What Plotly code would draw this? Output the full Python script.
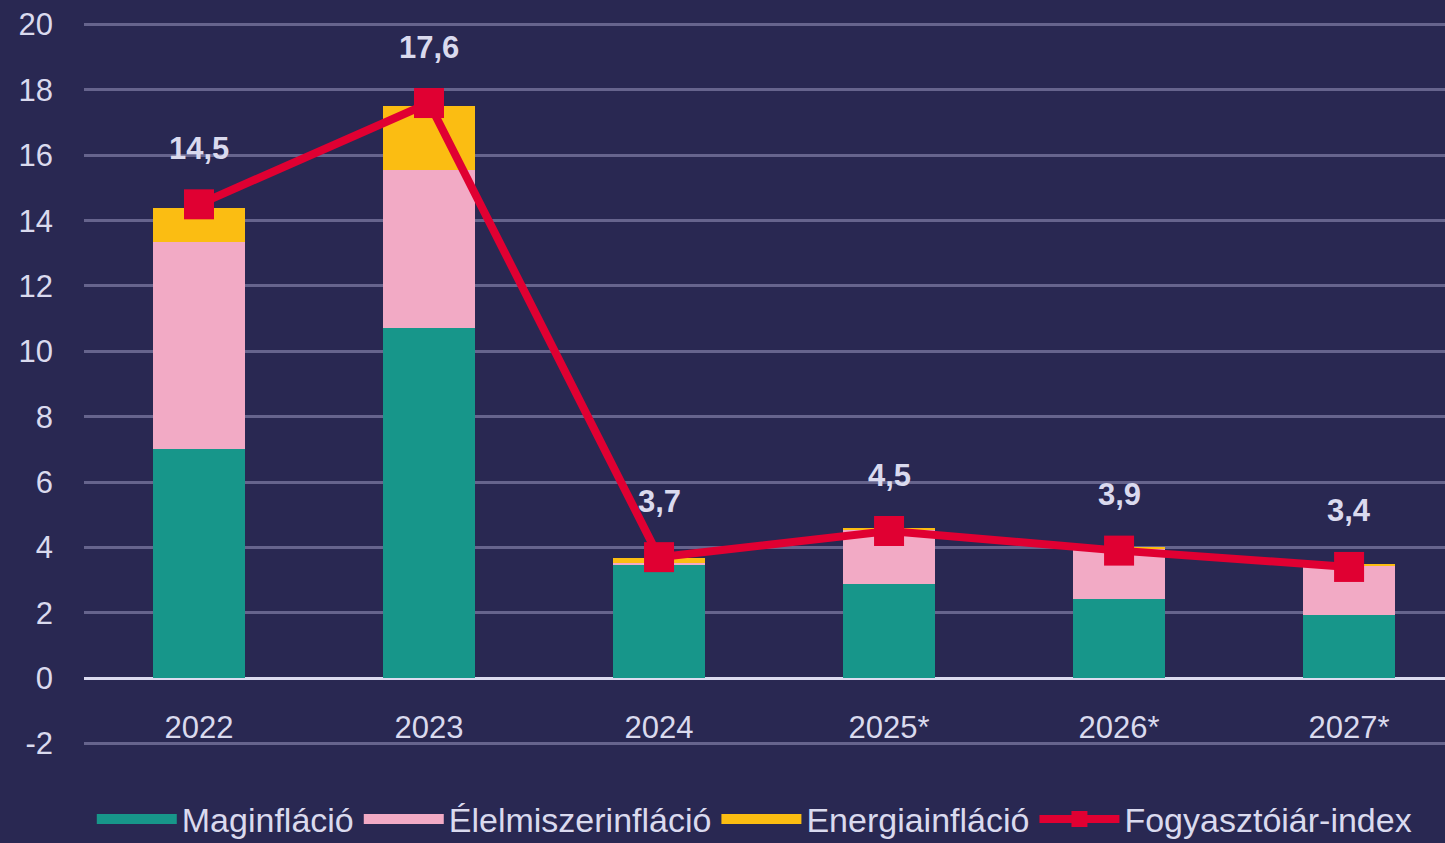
import plotly.graph_objects as go

years = ["2022", "2023", "2024", "2025*", "2026*", "2027*"]
maginflacio = [7.0, 10.7, 3.45, 2.87, 2.43, 1.94]
elelmiszer = [6.35, 4.85, 0.08, 1.67, 1.54, 1.48]
energia = [1.05, 1.95, 0.15, 0.03, 0.02, 0.07]
cpi = [14.5, 17.6, 3.7, 4.5, 3.9, 3.4]
ytick_vals = [-2, 0, 2, 4, 6, 8, 10, 12, 14, 16, 18, 20]
ytick_text = [str(v) for v in ytick_vals]

BG = "#292852"
TXT = "#dadaee"
GRID = "#66648d"
C_MAG = "#17968a"
C_ELE = "#f2aac5"
C_ENE = "#fbbd12"
C_CPI = "#e00032"

fig = go.Figure()
for name, vals, col in [("Maginfláció", maginflacio, C_MAG),
                        ("Élelmiszerinfláció", elelmiszer, C_ELE),
                        ("Energiainfláció", energia, C_ENE)]:
    fig.add_trace(go.Bar(x=years, y=vals, name=name, showlegend=False, legendgroup=name,
                         marker=dict(color=col, line=dict(width=0)), width=0.4))
    # legend swatch (wide rectangle look)
    fig.add_trace(go.Scatter(x=[None], y=[None], name=name, legendgroup=name, mode="lines",
                             line=dict(color=col, width=20)))

fig.add_trace(go.Scatter(x=years, y=cpi, name="Fogyasztóiár-index", mode="lines+markers",
                         line=dict(color=C_CPI, width=8),
                         marker=dict(symbol="square", size=30, color=C_CPI)))

for i, v in enumerate(cpi):
    fig.add_annotation(x=i, y=v, xref="x", yref="y",
                       text="<b>" + f"{v:.1f}".replace(".", ",") + "</b>", showarrow=False,
                       yshift=56, font=dict(family="Liberation Sans, Arial", size=31, color=TXT))

fig.update_layout(
    barmode="stack",
    width=1445, height=843,
    paper_bgcolor=BG, plot_bgcolor=BG,
    margin=dict(l=84, r=0, t=23, b=98),
    font=dict(family="Liberation Sans, Arial", color=TXT, size=31),
    showlegend=True,
    legend=dict(orientation="h", x=0.522, xanchor="center", xref="container",
                y=0.028, yanchor="middle", yref="container",
                font=dict(family="Liberation Sans Narrow, Liberation Sans", size=34, color=TXT),
                itemwidth=80, traceorder="normal", bgcolor="rgba(0,0,0,0)"),
    xaxis=dict(type="category", range=[-0.5, 5.417], showgrid=False, showline=False,
               zeroline=False, anchor="free", position=2.05 / 22.1, ticks="",
               ticklabelstandoff=28, tickfont=dict(size=31, color=TXT), automargin=False),
    yaxis=dict(range=[-2.05, 20.05], tickvals=ytick_vals, ticktext=ytick_text,
               showgrid=True, gridcolor=GRID, gridwidth=3,
               zeroline=True, zerolinecolor="#dcdcf0", zerolinewidth=3,
               ticks="", ticklabelstandoff=30, tickfont=dict(size=31, color=TXT),
               showline=False, automargin=False),
)

fig.write_html("out.html", config={"displayModeBar": False},
               post_script="document.body.style.margin='0';document.body.style.background='%s';" % BG)
